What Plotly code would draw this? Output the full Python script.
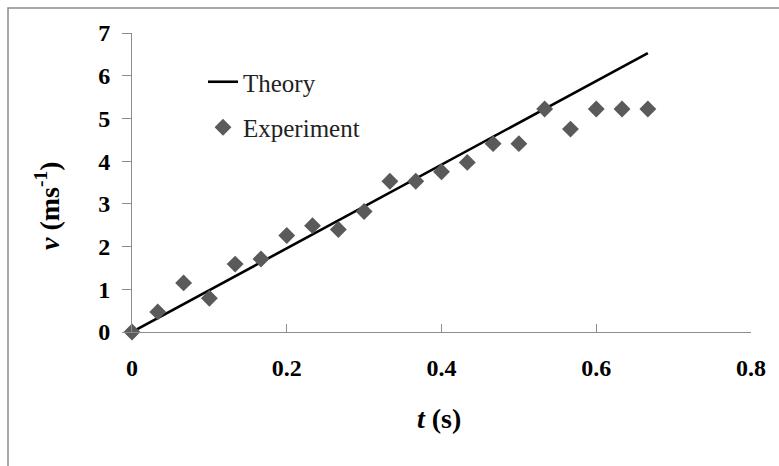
import plotly.graph_objects as go

# Data
exp_t = [0, 0.0333, 0.0667, 0.1, 0.1333, 0.1667, 0.2, 0.2333, 0.2667, 0.3,
         0.3333, 0.3667, 0.4, 0.4333, 0.4667, 0.5, 0.5333, 0.5667, 0.6, 0.6333, 0.6667]
exp_v = [0, 0.47, 1.15, 0.79, 1.59, 1.71, 2.26, 2.49, 2.40, 2.82,
         3.53, 3.53, 3.75, 3.97, 4.41, 4.41, 5.22, 4.75, 5.22, 5.22, 5.22]
theory_t = [0, 0.6667]
theory_v = [0, 6.53]

x_ticks = [0, 0.2, 0.4, 0.6, 0.8]
x_ticklabels = ["0", "0.2", "0.4", "0.6", "0.8"]
y_ticks = [0, 1, 2, 3, 4, 5, 6, 7]

W, H = 779, 466
ML, MR, MT, MB = 132, 28, 33, 134
PW, PH = W - ML - MR, H - MT - MB

def px(x):
    return (x - ML) / PW

def py(y):
    return (H - MB - y) / PH

FONT = "'Liberation Serif', 'Times New Roman', Times, serif"
AX = "#8c8c8c"

fig = go.Figure()
fig.add_trace(go.Scatter(x=theory_t, y=theory_v, mode="lines", name="Theory",
                         line=dict(color="black", width=2.6), legendgroup="a",
                         cliponaxis=False))
fig.add_trace(go.Scatter(x=exp_t, y=exp_v, mode="markers", name="Experiment",
                         marker=dict(symbol="diamond", size=13, color="#5a5a5a"),
                         legendgroup="b", cliponaxis=False))

fig.update_layout(
    width=W, height=H,
    margin=dict(l=ML, r=MR, t=MT, b=MB),
    paper_bgcolor="white", plot_bgcolor="white",
    font=dict(family=FONT, color="black"),
    showlegend=True,
    legend=dict(x=px(203), y=py(59), xanchor="left", yanchor="top",
                bgcolor="rgba(0,0,0,0)", font=dict(family=FONT, size=25, color="#222"),
                tracegroupgap=10, itemwidth=30),
    xaxis=dict(range=[0, 0.8], tickvals=x_ticks, ticktext=x_ticklabels,
               showgrid=False, zeroline=False, showline=True, linecolor=AX, linewidth=1,
               ticks="inside", ticklen=8, tickcolor=AX,
               tickfont=dict(family=FONT, size=24, color="black", weight="bold"),
               ticklabelstandoff=14),
    yaxis=dict(range=[0, 7], tickvals=y_ticks,
               showgrid=False, zeroline=False, showline=True, linecolor=AX, linewidth=1,
               ticks="outside", ticklen=9, tickcolor=AX,
               tickfont=dict(family=FONT, size=24, color="black", weight="bold"),
               ticklabelstandoff=7),
    annotations=[
        dict(text="<b><i>t</i> (s)</b>", xref="paper", yref="paper",
             x=px(439), y=py(418), xanchor="center", yanchor="middle",
             showarrow=False, font=dict(family=FONT, size=28, color="black")),
        dict(text="<b><i>v</i> (ms<sup>-1</sup>)</b>", xref="paper", yref="paper",
             x=px(47), y=py(206), xanchor="center", yanchor="middle", textangle=-90,
             showarrow=False, font=dict(family=FONT, size=28, color="black")),
    ],
    shapes=[
        dict(type="rect", xref="paper", yref="paper",
             x0=px(8), y0=py(500), x1=px(820), y1=py(8),
             line=dict(color="#8a8a8a", width=1.5), fillcolor="rgba(0,0,0,0)", layer="below"),
    ],
)

fig.write_html("out.html")
